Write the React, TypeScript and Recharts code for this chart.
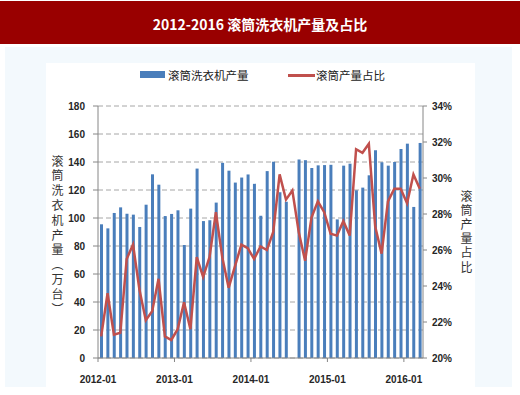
import React from 'react';
import { ComposedChart, Bar, Line, XAxis, YAxis, CartesianGrid } from 'recharts';

// monthly, 2012-01 .. 2016-03
const output: (number | null)[] = [
  95.5, 92.6, 103.6, 107.6, 103.1, 102.4, 93.6, 109.5, 131.2, 123.8, 101.4, 102.9,
  105.5, 80.7, 106.7, 135.3, 97.8, 98.4, 111, 139.4, 133.8, 125.3, 128.9, 131.1,
  124.4, 101.6, 133.5, 140.2, 118.4, 111.6, null, 141.8, 141.3, 135.7, 137.6, 137.8,
  138, 99, 137.4, 138.8, 119.8, 121.7, 130.5, 148.4, 139.8, 137.4, 140, 149.3,
  153.1, 107.9, 153.6,
];

const share: number[] = [
  21.2, 23.6, 21.3, 21.4, 25.5, 26.3, 23.8, 22.1, 22.6, 24.4, 21.2, 21.0,
  21.6, 23.1, 21.6, 25.6, 24.5, 25.6, 28.1, 25.6, 23.9, 25.1, 26.3, 26.1,
  25.5, 26.2, 26.0, 27.0, 30.2, 28.8, 29.3, 27.0, 25.4, 27.8, 28.7, 28.1,
  26.9, 26.8, 27.6, 26.8, 31.6, 31.4, 31.9, 27.3, 25.8, 28.7, 29.4, 29.4,
  28.6, 30.2, 29.4,
];

const tickPos = [0, 12, 24, 36, 48];
const tickLabels = ['2012-01', '2013-01', '2014-01', '2015-01', '2016-01'];
const leftTicks = [0, 20, 40, 60, 80, 100, 120, 140, 160, 180];
const rightTicks = [20, 22, 24, 26, 28, 30, 32, 34];

const data = output.map((v, i) => ({ x: i + 0.5, output: v, share: share[i] }));

const cjk = '"Noto Sans CJK SC", "Noto Sans", sans-serif';
const num = '"Liberation Sans", Arial, sans-serif';
const tickStyle = { fill: '#262626', fontSize: 10, fontWeight: 'bold', fontFamily: num };

export default function App() {
  return (
    <div style={{ position: 'fixed', left: 0, top: 0, width: 520, height: 395, overflow: 'hidden', background: '#fff' }}>
      <div style={{ position: 'absolute', left: 0, top: 1, width: 520, height: 43, background: '#990000' }} />
      <div
        style={{
          position: 'absolute', left: 0, top: 14, width: 520, textAlign: 'center',
          color: '#fff', fontFamily: cjk, fontWeight: 'bold', fontSize: 14, lineHeight: '20px',
        }}
      >
        2012-2016 滚筒洗衣机产量及占比
      </div>
      <div style={{ position: 'absolute', left: 5, top: 47, width: 507, height: 340, background: '#f3f9fd' }} />
      <div style={{ position: 'absolute', left: 46, top: 63, width: 429, height: 324, background: '#fff' }} />

      {/* legend */}
      <div style={{ position: 'absolute', left: 140, top: 71, width: 25, height: 7, background: '#4a7ebb' }} />
      <div style={{ position: 'absolute', left: 168, top: 66, fontFamily: cjk, fontSize: 11.5, color: '#222', lineHeight: '18px' }}>
        滚筒洗衣机产量
      </div>
      <div style={{ position: 'absolute', left: 288, top: 73.5, width: 27, height: 3, background: '#c0504d' }} />
      <div style={{ position: 'absolute', left: 316, top: 66, fontFamily: cjk, fontSize: 11.5, color: '#222', lineHeight: '18px' }}>
        滚筒产量占比
      </div>

      {/* axis titles */}
      <div
        style={{
          position: 'absolute', left: 49, top: 155, writingMode: 'vertical-rl', fontFamily: cjk,
          fontSize: 12, letterSpacing: 2.8, color: '#333', lineHeight: '16px',
        }}
      >
        滚筒洗衣机产量（万台）
      </div>
      <div
        style={{
          position: 'absolute', left: 458, top: 190, writingMode: 'vertical-rl', fontFamily: cjk,
          fontSize: 12, letterSpacing: 2.2, color: '#333', lineHeight: '16px',
        }}
      >
        滚筒产量占比
      </div>

      <div style={{ position: 'absolute', left: 0, top: 0 }}>
        <ComposedChart width={520} height={395} data={data} margin={{ top: 106, right: 0, bottom: 15, left: 0 }}>
          <CartesianGrid yAxisId="left" vertical={false} stroke="#a6a6a6" strokeDasharray="5 3" />
          <XAxis
            dataKey="x"
            type="number"
            domain={[0, 51]}
            ticks={tickPos}
            tickFormatter={(v: number) => tickLabels[tickPos.indexOf(v)]}
            height={22}
            tick={tickStyle}
            tickSize={4}
            tickMargin={14}
            axisLine={{ stroke: '#868686' }}
            tickLine={{ stroke: '#868686' }}
            interval={0}
          />
          <YAxis
            yAxisId="left"
            width={98}
            domain={[0, 180]}
            ticks={leftTicks}
            tick={tickStyle}
            tickSize={5}
            tickMargin={8}
            axisLine={{ stroke: '#868686' }}
            tickLine={{ stroke: '#868686' }}
            interval={0}
          />
          <YAxis
            yAxisId="right"
            orientation="right"
            width={97}
            domain={[20, 34]}
            ticks={rightTicks}
            tickFormatter={(v: number) => `${v}%`}
            tick={tickStyle}
            tickSize={4}
            tickMargin={5}
            axisLine={{ stroke: '#868686' }}
            tickLine={{ stroke: '#868686' }}
            interval={0}
          />
          <Bar yAxisId="left" dataKey="output" fill="#4a7ebb" barSize={3} isAnimationActive={false} />
          <Line
            yAxisId="right"
            type="linear"
            dataKey="share"
            stroke="#c0504d"
            strokeWidth={2.5}
            dot={false}
            isAnimationActive={false}
          />
        </ComposedChart>
      </div>
    </div>
  );
}
